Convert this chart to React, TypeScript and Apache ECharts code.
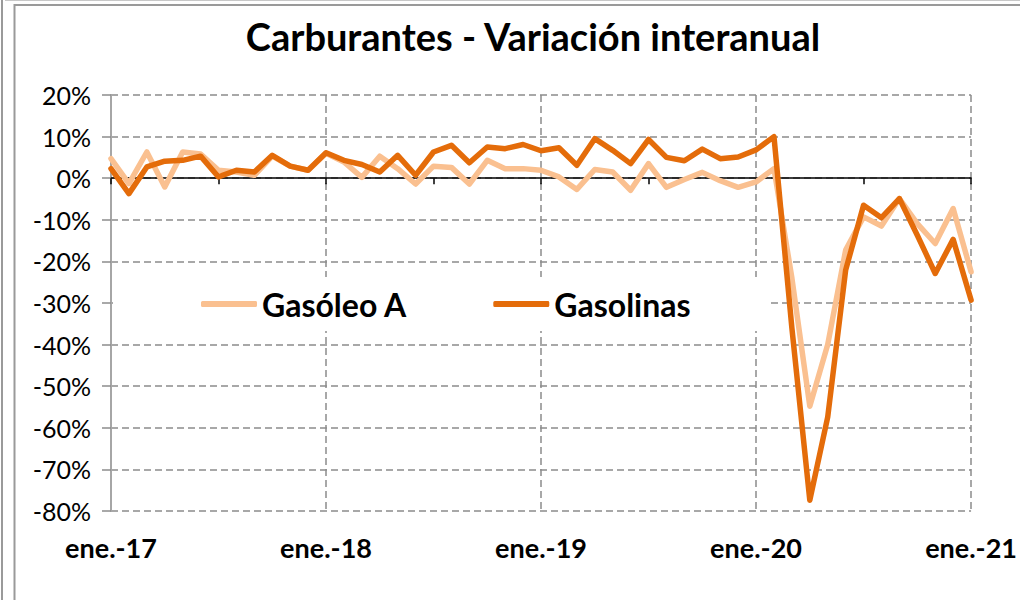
import React, { useEffect, useRef } from "react";
import * as echarts from "echarts";

const monthNames = ["ene.", "feb.", "mar.", "abr.", "may.", "jun.", "jul.", "ago.", "sep.", "oct.", "nov.", "dic."];
const years = ["17", "18", "19", "20"];
const categories: string[] = [];
years.forEach((y) => monthNames.forEach((m) => categories.push(`${m}-${y}`)));
categories.push("ene.-21");

const gasoleoA = [
  4.7, -1.3, 6.3, -2.1, 6.3, 5.8, 1.9, 1.5, 0.7, 5.3, 2.9, 1.9,
  6.0, 3.9, 0.2, 5.3, 2.3, -1.4, 2.9, 2.6, -1.4, 4.3, 2.3, 2.3,
  1.9, 0.3, -2.7, 2.1, 1.5, -2.9, 3.5, -2.2, -0.3, 1.4, -0.6, -2.2,
  -0.9, 2.3, -24, -54.8, -40, -17.3, -9.3, -11.5, -4.9, -10.9, -15.7, -7.3,
  -22.5,
];

const gasolinas = [
  2.3, -3.7, 2.7, 4.1, 4.3, 5.3, 0.3, 1.9, 1.5, 5.5, 2.9, 1.9,
  6.1, 4.3, 3.3, 1.5, 5.5, 0.7, 6.3, 7.9, 3.7, 7.5, 7.1, 8.1,
  6.6, 7.3, 3.1, 9.5, 6.7, 3.5, 9.3, 5.0, 4.2, 7.0, 4.7, 5.1,
  6.8, 10.0, -36, -77.4, -57.4, -22.1, -6.5, -9.5, -4.9, -13.7, -22.9, -14.7,
  -29.3,
];

const title = "Carburantes - Variación interanual";
const seriesNames = ["Gasóleo A", "Gasolinas"];
const colors = ["#FAC090", "#E46C0A"];

export default function App() {
  const ref = useRef<HTMLDivElement>(null);
  useEffect(() => {
    if (!ref.current) return;
    const chart = echarts.init(ref.current, undefined, { renderer: "svg" });
    const font = "Lato";
    const gridColor = "#8C8C8C";
    chart.setOption({
      animation: false,
      backgroundColor: "#ffffff",
      title: {
        text: title,
        left: 528,
        textAlign: "center",
        top: 12,
        textStyle: { fontFamily: font, fontWeight: "bold", fontSize: 38, color: "#000" },
      },
      legend: {
        data: seriesNames,
        icon: "roundRect",
        left: 113,
        top: 277,
        padding: [11, 80, 11, 88],
        backgroundColor: "#ffffff",
        itemGap: 86,
        itemWidth: 56,
        itemHeight: 6,
        textStyle: { fontFamily: font, fontWeight: "bold", fontSize: 32, color: "#000" },
      },
      grid: { left: 111, right: 47, top: 95, bottom: 89, containLabel: false },
      xAxis: [
        {
          type: "category",
          data: categories,
          boundaryGap: false,
          position: "bottom",
          axisLine: { show: false, onZero: false },
          axisTick: { show: false },
          axisLabel: {
            interval: 11,
            margin: 23,
            fontFamily: font,
            fontWeight: "bold",
            fontSize: 27,
            color: "#000",
          },
          splitLine: {
            show: true,
            interval: 11,
            lineStyle: { color: gridColor, type: [7, 4], width: 1.5 },
          },
        },
        {
          type: "category",
          data: categories,
          boundaryGap: false,
          position: "top",
          axisLine: { show: true, onZero: true, lineStyle: { color: "#000", width: 1.5 } },
          axisTick: { show: true, inside: true, interval: 5, length: 6, lineStyle: { color: "#000", width: 1.5 } },
          axisLabel: { show: false },
          splitLine: { show: false },
        },
      ],
      yAxis: {
        type: "value",
        min: -80,
        max: 20,
        interval: 10,
        axisLine: { show: true, lineStyle: { color: "#A6A6A6", width: 2 } },
        axisTick: { show: true, length: 9, lineStyle: { color: gridColor, width: 1.5 } },
        axisLabel: {
          formatter: "{value}%",
          margin: 20,
          fontFamily: font,
          fontSize: 25,
          color: "#000",
        },
        splitLine: { show: true, lineStyle: { color: gridColor, type: [7, 4], width: 1.5 } },
      },
      series: [
        {
          name: seriesNames[0],
          type: "line",
          data: gasoleoA,
          symbol: "none",
          color: colors[0],
          lineStyle: { width: 5.5, color: colors[0], cap: "round", join: "round" },
        },
        {
          name: seriesNames[1],
          type: "line",
          data: gasolinas,
          symbol: "none",
          color: colors[1],
          lineStyle: { width: 5.5, color: colors[1], cap: "round", join: "round" },
        },
      ],
      graphic: [
        { type: "line", shape: { x1: 2, y1: 0, x2: 2, y2: 600 }, style: { stroke: "#9A9A9A", lineWidth: 2 } },
        { type: "line", shape: { x1: 5, y1: 0.5, x2: 1020, y2: 0.5 }, style: { stroke: "#C8C8C8", lineWidth: 1 } },
        { type: "line", shape: { x1: 14.5, y1: 4, x2: 14.5, y2: 600 }, style: { stroke: "#9A9A9A", lineWidth: 2 } },
        { type: "line", shape: { x1: 14, y1: 5, x2: 1020, y2: 5 }, style: { stroke: "#9A9A9A", lineWidth: 2 } },
      ],
    });
    return () => chart.dispose();
  }, []);
  return (
    <div
      ref={ref}
      style={{ position: "fixed", left: 0, top: 0, width: 1020, height: 600 }}
    />
  );
}
